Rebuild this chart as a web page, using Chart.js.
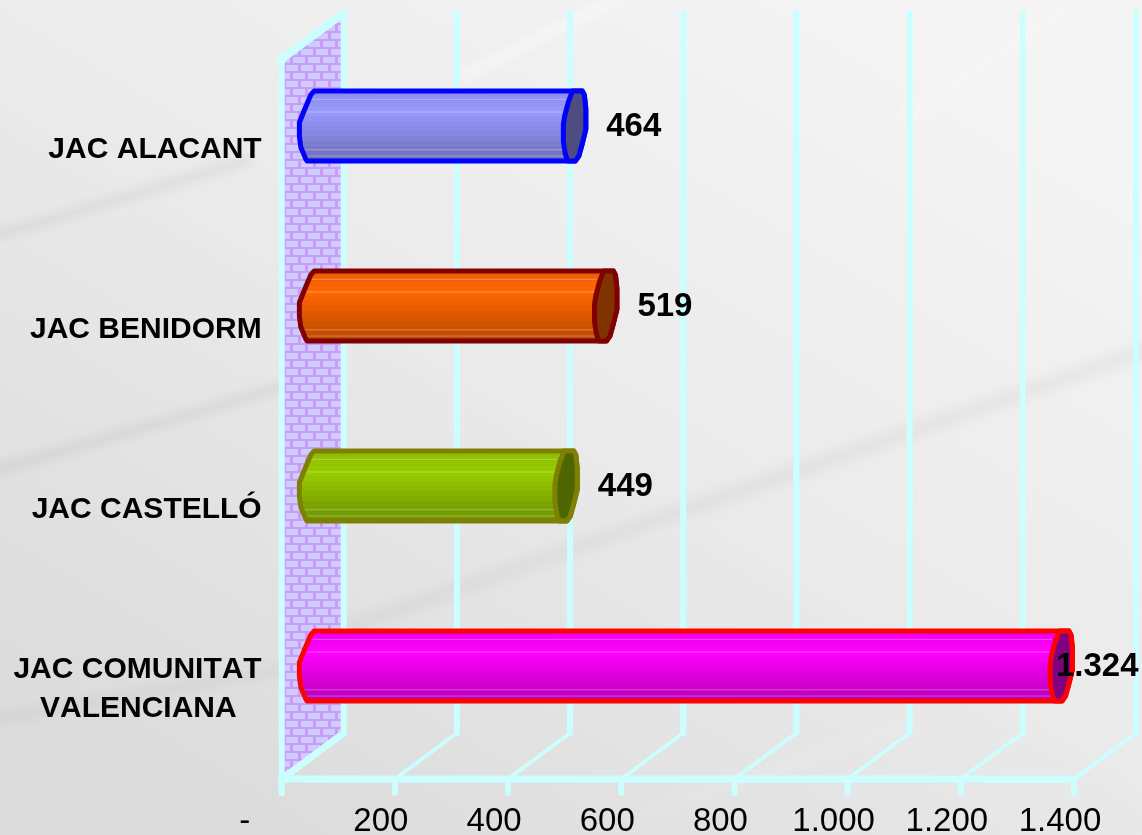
<!DOCTYPE html>
<html><head><meta charset="utf-8">
<style>html,body{margin:0;padding:0;background:#e8e8e8}canvas{display:block}</style>
<script src="https://cdn.jsdelivr.net/npm/chart.js@4/dist/chart.umd.min.js"></script>
</head><body><canvas id="c" width="1142" height="835"></canvas>
<script>
const categories = ["JAC ALACANT", "JAC BENIDORM", "JAC CASTELLÓ", ["JAC COMUNITAT", "VALENCIANA"]];
const values = [464, 519, 449, 1324];
const valueLabels = ["464", "519", "449", "1.324"];
const bodyColors = ["#9999FF", "#FF6600", "#99CC00", "#FF00FF"];
const capColors = ["#4D4D80", "#803300", "#4D6600", "#800080"];
const borderColors = ["#0000FF", "#800000", "#808000", "#FF0000"];
const axisMin = 0, axisMax = 1400, axisStep = 200;

const DX = 62, DY = 46, GRID = "#CCFFFF";
const FONT = '"Liberation Sans", Arial, sans-serif';

function shade(hex, k) {
  const n = parseInt(hex.slice(1), 16);
  const f = v => Math.round(v * k);
  return `rgb(${f(n >> 16 & 255)},${f(n >> 8 & 255)},${f(n & 255)})`;
}
function brickPattern(ctx) {
  const t = document.createElement('canvas'); t.width = 30; t.height = 16;
  const g = t.getContext('2d');
  g.fillStyle = '#CC99FF'; g.fillRect(0, 0, 30, 16);
  g.fillStyle = '#CCCCFF';
  for (const x of [1, 16]) g.fillRect(x, 1, 12, 6);
  for (const x of [-7, 8, 23]) g.fillRect(x, 9, 12, 6);
  return ctx.createPattern(t, 'repeat');
}
const scenery = {
  id: 'scenery',
  beforeDraw(chart) {
    const c = chart.ctx, W = chart.width, H = chart.height;
    c.fontKerning = 'none';
    c.save();
    const g = c.createLinearGradient(820, 0, 320, H);
    g.addColorStop(0, '#F4F4F4'); g.addColorStop(.5, '#EAEAEA'); g.addColorStop(1, '#DCDCDC');
    c.fillStyle = g; c.fillRect(0, 0, W, H);
    const band = (pts, col, blur) => {
      c.filter = `blur(${blur}px)`; c.strokeStyle = col; c.lineWidth = pts[2];
      c.lineCap = 'butt'; c.beginPath(); c.moveTo(pts[0][0], pts[0][1]); c.lineTo(pts[1][0], pts[1][1]); c.stroke();
    };
    band([[-20, 240], [250, 160], 9], 'rgba(150,150,150,.16)', 4);
    band([[-20, 475], [290, 385], 10], 'rgba(150,150,150,.16)', 4);
    band([[-20, 722], [290, 668], 10], 'rgba(150,150,150,.10)', 5);
    band([[345, 628], [1160, 345], 14], 'rgba(150,150,150,.11)', 6);
    band([[459, 78], [625, -5], 12], 'rgba(255,255,255,.38)', 5);
    band([[900, 122], [1085, -5], 16], 'rgba(255,255,255,.24)', 8);
    band([[640, 815], [920, 720], 14], 'rgba(255,255,255,.12)', 6);
    c.filter = 'none';
    c.restore();
  },
  beforeDatasetsDraw(chart) {
    const c = chart.ctx, x = chart.scales.x, a = chart.chartArea;
    const base = x.getPixelForValue(axisMin), end = x.getPixelForValue(axisMax);
    const top = a.top, bot = a.bottom;
    c.save();
    c.beginPath();
    c.moveTo(base, top); c.lineTo(base + DX, top - DY); c.lineTo(base + DX, bot - DY); c.lineTo(base, bot); c.closePath();
    c.fillStyle = brickPattern(c); c.fill();
    c.strokeStyle = GRID; c.lineCap = 'round'; c.lineJoin = 'round';
    x.ticks.forEach((t, i) => {
      const px = x.getPixelForTick(i);
      c.lineWidth = 6;
      c.beginPath(); c.moveTo(px + DX, top - DY); c.lineTo(px + DX, bot - DY); c.stroke();
      c.lineWidth = i === 0 ? 7 : 4;
      c.beginPath(); c.moveTo(px + DX, bot - DY); c.lineTo(px, bot); c.stroke();
      c.lineWidth = 6;
      c.beginPath(); c.moveTo(px, bot); c.lineTo(px, bot + 14); c.stroke();
    });
    c.lineWidth = 6;
    c.beginPath(); c.moveTo(base, bot + 14); c.lineTo(base, top); c.stroke();
    c.lineWidth = 8;
    c.beginPath(); c.moveTo(base, top); c.lineTo(base + DX, top - DY); c.stroke();
    c.lineWidth = 7;
    c.beginPath(); c.moveTo(base, bot); c.lineTo(end, bot); c.stroke();
    c.restore();
  },
  beforeDatasetDraw() { return false; },
  afterDatasetsDraw(chart) {
    const c = chart.ctx, meta = chart.getDatasetMeta(0);
    // end-cap outlines relative to their centre, in units of half the bar height
    const capLeft = [[-.08, -1], [-.2, -.68], [-.3, -.3], [-.34, -.05], [-.34, .45], [-.29, .78], [-.22, 1]];
    const capRight = [[.2, -1], [.26, -.88], [.3, -.5], [.3, .1], [.2, .5], [.1, .86], [0, 1]];
    const leftEnd = [[.04, -1], [-.06, -.88], [-.24, -.45], [-.38, -.1], [-.38, .3], [-.34, .6], [-.2, .94], [-.16, 1]];
    meta.data.forEach((el, i) => {
      const h = el.height / 2, cy = el.y - DY / 2;
      const x0 = chart.scales.x.getPixelForValue(axisMin) + DX / 2, x1 = el.x + DX / 2;
      const P = (cx, p) => [cx + p[0] * h, cy + p[1] * h];
      c.save();
      c.lineJoin = 'round'; c.lineWidth = 5; c.strokeStyle = borderColors[i];
      const body = [...leftEnd.map(p => P(x0, p)).reverse(), ...capRight.map(p => P(x1, p))];
      const path = pts => { c.beginPath(); pts.forEach((p, k) => k ? c.lineTo(p[0], p[1]) : c.moveTo(p[0], p[1])); c.closePath(); };
      // body: stepped shading
      path(body); c.save(); c.clip();
      const col = bodyColors[i], n = 14;
      for (let b = 0; b < n; b++) {
        const t = (b + .5) / n;
        const k = t < .3 ? .92 + .08 * (t / .3) : 1 - .28 * ((t - .3) / .7);
        c.fillStyle = shade(col, k);
        c.fillRect(x0 - h, cy - h + 2 * h * b / n, x1 - x0 + 2 * h, 2 * h / n + 1);
      }
      c.strokeStyle = 'rgba(255,255,255,.3)'; c.lineWidth = 1;
      for (const f of [.12, .3, .84, .93]) {
        c.beginPath(); c.moveTo(x0 - h, cy - h + 2 * h * f); c.lineTo(x1 - 10, cy - h + 2 * h * f); c.stroke();
      }
      c.restore();
      path(body); c.stroke();
      // far cap
      const ring = [...capLeft.map(p => P(x1, p)).reverse(), ...capRight.map(p => P(x1, p))];
      path(ring); c.fillStyle = capColors[i]; c.fill(); c.stroke();
      // value label
      c.fillStyle = '#000'; c.font = `bold 33px ${FONT}`; c.textAlign = 'center'; c.textBaseline = 'middle';
      const w = c.measureText(valueLabels[i]).width;
      const lx = Math.min(el.x + 89.5, chart.width - 3.5 - w / 2);
      c.fillText(valueLabels[i], lx, cy + 1);
      c.restore();
    });
  }
};
new Chart(document.getElementById('c'), {
  type: 'bar',
  data: { labels: categories, datasets: [{ data: values, backgroundColor: bodyColors, borderColor: borderColors, barThickness: 70 }] },
  plugins: [scenery],
  options: {
    indexAxis: 'y', responsive: false, animation: false,
    layout: { padding: { top: 59, right: 68, left: 0, bottom: 0 } },
    plugins: { legend: { display: false }, tooltip: { enabled: false }, title: { display: false } },
    scales: {
      x: {
        min: axisMin, max: axisMax, position: 'bottom',
        afterFit(s) { s.height = 56; },
        grid: { display: false }, border: { display: false },
        ticks: {
          stepSize: axisStep, maxRotation: 0, autoSkip: false, color: '#000', padding: 15, labelOffset: -14,
          font: { family: FONT, size: 33 },
          callback: v => v === 0 ? '-     ' : (v >= 1000 ? Math.floor(v / 1000) + '.' + String(v % 1000).padStart(3, '0') : String(v))
        }
      },
      y: {
        afterFit(s) { s.width = 281.7; },
        grid: { display: false }, border: { display: false },
        ticks: {
          color: '#000', padding: 12, autoSkip: false, labelOffset: 0.5,
          font: { family: FONT, size: 30, weight: 'bold', lineHeight: 1.3 },
          callback(v) { const l = this.getLabelForValue(v); return Array.isArray(l) ? [l[0], l[1] + '   '] : l; }
        }
      }
    }
  }
});
</script></body></html>
